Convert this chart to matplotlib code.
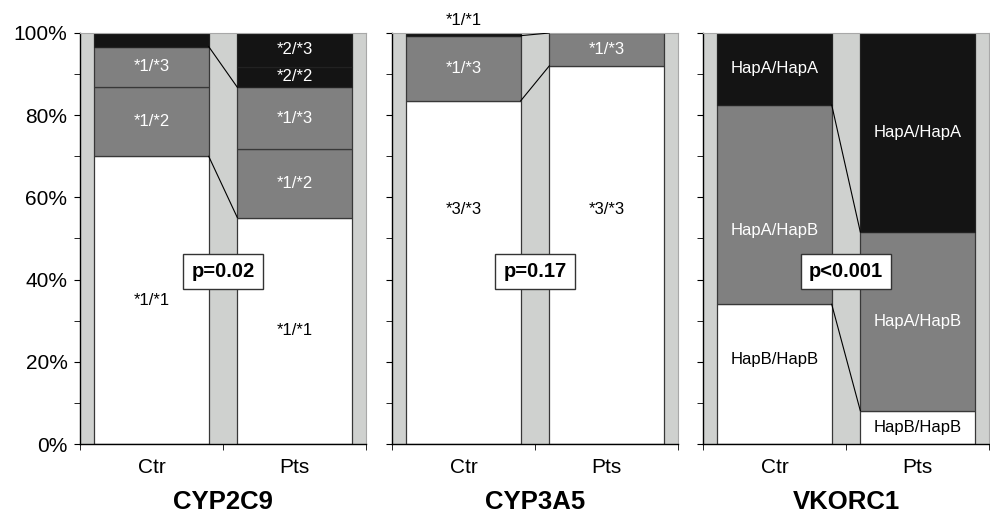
import numpy as np
import matplotlib.pyplot as plt
from matplotlib.ticker import MultipleLocator, PercentFormatter

plt.rcParams['font.family'] = ['Liberation Sans', 'DejaVu Sans']

# genotype frequencies (%), bottom segment first
groups = ["Ctr", "Pts"]
genes = ["CYP2C9", "CYP3A5", "VKORC1"]
p_values = ["p=0.02", "p=0.17", "p<0.001"]

cyp2c9_genotypes = ["*1/*1", "*1/*2", "*1/*3", "*2/*2", "*2/*3"]
cyp2c9_ctr = [70.0, 16.8, 9.9, 3.3, 0.0]
cyp2c9_pts = [55.1, 16.7, 15.0, 5.0, 8.2]

cyp3a5_genotypes = ["*3/*3", "*1/*3", "*1/*1"]
cyp3a5_ctr = [83.5, 15.85, 0.65]
cyp3a5_pts = [92.0, 8.0, 0.0]

vkorc1_genotypes = ["HapB/HapB", "HapA/HapB", "HapA/HapA"]
vkorc1_ctr = [34.0, 48.5, 17.5]
vkorc1_pts = [8.1, 43.5, 48.4]

WHITE = "#ffffff"
GREY = "#808080"
BLACK = "#141414"
BACK = "#cfd1cf"

panels = [
    (cyp2c9_genotypes, [cyp2c9_ctr, cyp2c9_pts], [WHITE, GREY, GREY, BLACK, BLACK], [0, 2]),
    (cyp3a5_genotypes, [cyp3a5_ctr, cyp3a5_pts], [WHITE, GREY, BLACK], [0, 1]),
    (vkorc1_genotypes, [vkorc1_ctr, vkorc1_pts], [WHITE, GREY, BLACK], [0, 1]),
]

# hand placed label heights where the original did not centre them
label_nudge = {(1, 0, 0): 57.0, (1, 1, 0): 57.0, (2, 0, 1): 52.0, (2, 0, 0): 20.5}

fig = plt.figure(figsize=(9.9, 5.14), dpi=100)
lefts = [80 / 990, 392 / 990, 703 / 990]
width = 286 / 990
bottom = 1 - 444 / 514
height = 411 / 514

for i, (genotypes, data, colors, linked) in enumerate(panels):
    ax = fig.add_axes([lefts[i], bottom, width, height])
    ax.set_facecolor(BACK)
    x = np.arange(len(groups))
    tops = []
    for g, values in enumerate(data):
        base = 0.0
        cum = []
        for k, v in enumerate(values):
            if v > 0:
                edge = "#222222" if colors[k] == BLACK else "#383838"
                ax.bar(x[g], v, 0.8, bottom=base, color=colors[k],
                       edgecolor=edge, linewidth=0.9, zorder=2)
            if v >= 4:
                y = label_nudge.get((i, g, k), base + v / 2)
                ax.text(x[g], y, genotypes[k], ha="center", va="center",
                        fontsize=12, color="black" if colors[k] == WHITE else "white",
                        zorder=4)
            base += v
            cum.append(base)
        tops.append(cum)
    # series lines between the two bars
    for k in linked:
        ax.plot([x[0] + 0.4, x[1] - 0.4], [tops[0][k], tops[1][k]],
                color="black", linewidth=0.8, zorder=3)
    if i == 1:
        ax.text(x[0], 103, genotypes[2], ha="center", va="center",
                fontsize=12, clip_on=False)

    ax.text(0.5, 42, p_values[i], ha="center", va="center", fontsize=14.5,
            fontweight="bold", zorder=5,
            bbox=dict(boxstyle="square,pad=0.4", facecolor="white",
                      edgecolor="#333333", linewidth=1))

    ax.set_xlim(-0.5, 1.5)
    ax.set_ylim(0, 100)
    ax.set_xticks(x)
    ax.set_xticklabels(groups, fontsize=15)
    ax.set_xticks([-0.5, 0.5, 1.5], minor=True)
    ax.tick_params(axis="x", which="major", length=0, pad=10)
    ax.tick_params(axis="x", which="minor", length=4, direction="out")
    ax.yaxis.set_major_locator(MultipleLocator(20))
    ax.yaxis.set_minor_locator(MultipleLocator(10))
    ax.yaxis.set_major_formatter(PercentFormatter(decimals=0))
    ax.tick_params(axis="y", which="both", length=4, direction="out", pad=5,
                   labelsize=15)
    if i > 0:
        ax.tick_params(axis="y", labelleft=False)
    for side in ["top", "right"]:
        ax.spines[side].set_color("#a8a8a8")
        ax.spines[side].set_linewidth(0.8)
    ax.spines["left"].set_linewidth(1)
    ax.spines["bottom"].set_linewidth(1)

    fig.text(lefts[i] + width / 2, 1 - 502 / 514, genes[i], ha="center",
             va="center", fontsize=18.5, fontweight="bold")

fig.savefig("out.png", dpi=100)
